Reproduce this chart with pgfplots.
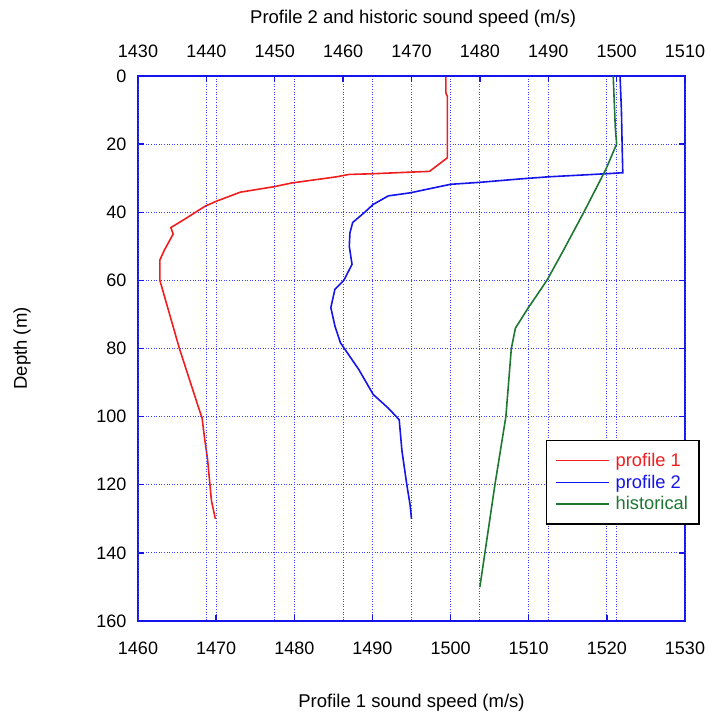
\documentclass[border=0pt]{standalone}
\usepackage{fontspec}
\setmainfont{Liberation Sans}
\usepackage{pgfplots}
\pgfplotsset{compat=1.18}
\definecolor{pred}{RGB}{240,30,30}
\definecolor{pblue}{RGB}{20,20,235}
\definecolor{pgreen}{RGB}{30,120,50}
\definecolor{gridblue}{RGB}{60,60,255}
\pgfplotsset{
  common/.style={
    scale only axis, width=547pt, height=545pt,
    at={(0,0)}, anchor=south west,
    ymin=0, ymax=160, y dir=reverse,
    axis line style={draw=pblue, line width=1.3pt},
    major tick style={draw=pblue, line width=1.3pt},
    major tick length=6pt,
    tick align=inside,
    major grid style={draw=gridblue, line width=0.9pt, dash pattern=on 1pt off 1.6pt},
    /pgf/number format/assume math mode=true,
    /pgf/number format/1000 sep={},
    tick label style={font=\fontsize{18}{20}\selectfont, text=black},
    label style={font=\fontsize{18.5}{21}\selectfont, text=black},
  }
}
\begin{document}
\begin{tikzpicture}
\path[use as bounding box] (-138pt,-98pt) rectangle (569pt,621pt);
\begin{axis}[common,
  xmin=1460, xmax=1530, xtick={1460,1470,...,1530},
  ytick={0,20,...,160},
  xtick pos=lower, ytick pos=both,
  grid=major,
  xlabel={Profile 1 sound speed (m/s)},
  ylabel={Depth (m)},
  xlabel style={at={(axis description cs:0.5,-0.15)}, anchor=center},
  ylabel style={at={(axis description cs:-0.212,0.5)}, anchor=center, rotate=0},
  yticklabel style={xshift=-8pt},
  xticklabel style={yshift=-17pt},
]
\addplot[pred, line width=1.6pt] coordinates {
(1499.4,0) (1499.4,5) (1499.6,6) (1499.6,24) (1497.3,28) (1495.1,28.2) (1490.0,28.7)
(1487.0,28.9) (1485.4,29.6) (1479.7,31.4) (1477.4,32.5) (1473.1,34.1) (1470.1,36.7)
(1468.6,38.2) (1466.0,42) (1464.2,44.5) (1464.5,46.4) (1463.4,51) (1462.8,54)
(1462.8,60) (1465.3,80) (1467.7,97) (1468.2,100.4) (1468.5,106) (1468.9,112.5)
(1469.4,124.7) (1469.9,130)
};
\end{axis}
\begin{axis}[common,
  xmin=1430, xmax=1510, xtick={1430,1440,...,1510},
  hide y axis,
  xtick pos=upper, xticklabel pos=upper,
  xmajorgrids=true,
  xlabel={Profile 2 and historic sound speed (m/s)},
  xlabel style={at={(axis description cs:0.503,1.106)}, anchor=center},
  xticklabel style={yshift=15pt},
  legend style={at={(axis description cs:0.745,0.332)}, anchor=north west,
    draw=black, line width=1.2pt, fill=white,
    font=\fontsize{18.3}{19}\selectfont,
    inner xsep=9pt, inner ysep=10.5pt,
    row sep=3pt, column sep=4pt,
    legend cell align=left},
  legend image code/.code={\draw[#1, line width=1.6pt] (0pt,0pt) -- (53pt,0pt);},
]
\addlegendimage{pred}
\addplot[pblue, line width=1.6pt] coordinates {
(1500.5,0) (1500.7,10) (1500.8,20) (1500.9,28.4) (1498.4,28.7) (1490.0,29.6) (1486.0,30.2)
(1480.1,31.2) (1475.7,31.8) (1469.8,34.3) (1466.6,35.2) (1464.4,37.7) (1463.1,40.1)
(1461.4,43) (1461.0,46) (1460.9,50) (1461.3,55.3) (1460.1,60) (1458.8,62.6) (1458.2,68)
(1458.8,73.4) (1459.6,78.3) (1462.3,86.2) (1464.4,93.5) (1466.6,97.5) (1468.2,100.9)
(1468.6,110) (1469.3,119.8) (1469.8,126) (1470.0,130)
};
\addplot[pgreen, line width=1.6pt] coordinates {
(1499.5,0) (1499.8,15) (1500.0,20) (1498.4,27.5) (1495.2,40) (1492.0,52) (1489.8,60)
(1487.1,68) (1485.2,74) (1484.6,80) (1483.8,100) (1482.2,120) (1480.0,150)
};
\legend{\textcolor{pred}{profile 1},\textcolor{pblue}{profile 2},\textcolor{pgreen}{historical}}
\end{axis}
\end{tikzpicture}
\end{document}
